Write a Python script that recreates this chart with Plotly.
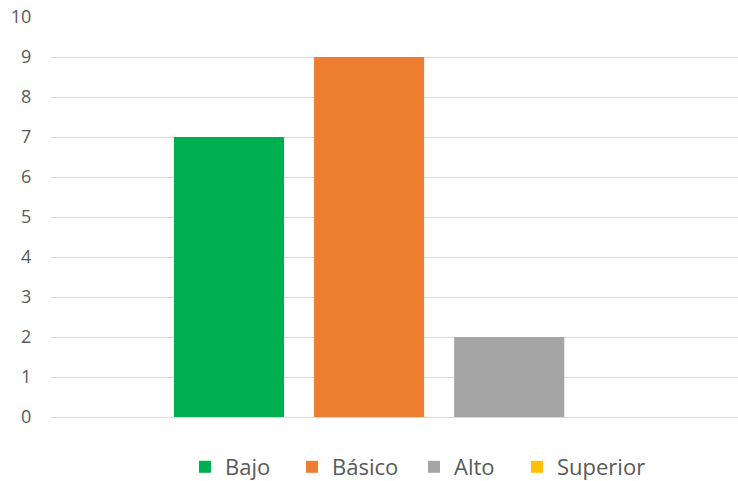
import plotly.graph_objects as go

categories = [""]
series_names = ["Bajo", "Básico", "Alto", "Superior"]
series_values = [[7], [9], [2], [0]]
colors = ["#00B050", "#ED7D31", "#A5A5A5", "#FFC000"]
tick_vals = list(range(0, 11))
legend_left_px = [185, 292, 414, 517]

fig = go.Figure()
legend_ids = ["legend", "legend2", "legend3", "legend4"]
for name, vals, c, lid in zip(series_names, series_values, colors, legend_ids):
    fig.add_trace(go.Bar(x=categories, y=vals, name=name, legend=lid,
                         marker=dict(color=c, line=dict(width=0))))

layout_legends = {}
for lid, px in zip(legend_ids, legend_left_px):
    layout_legends[lid] = dict(orientation="h", xref="container", yref="container",
                               x=px / 738, xanchor="left", y=1 - 467 / 481, yanchor="middle",
                               font=dict(size=22, color="#595959"), bgcolor="rgba(0,0,0,0)")

fig.update_layout(
    width=738, height=481,
    margin=dict(l=51, r=0, t=17, b=64, autoexpand=False),
    paper_bgcolor="white", plot_bgcolor="white",
    barmode="group", bargap=0.278, bargroupgap=0.214,
    font=dict(family="Open Sans, Liberation Sans, sans-serif", color="#595959"),
    showlegend=True,
    xaxis=dict(range=[-0.5, 0.385], showticklabels=False, showgrid=False, zeroline=False, showline=False, ticks=""),
    yaxis=dict(range=[0, 10], tickvals=tick_vals, showgrid=True, gridcolor="#D9D9D9", gridwidth=1,
               zeroline=True, zerolinecolor="#D9D9D9", zerolinewidth=1, showline=False,
               tickfont=dict(size=18, color="#595959"), ticks="outside", ticklen=15, tickcolor="white"),
    **layout_legends,
)
fig.write_html("out.html")
